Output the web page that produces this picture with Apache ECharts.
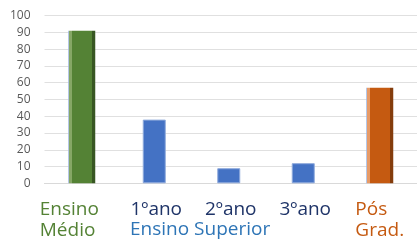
<!DOCTYPE html>
<html><head><meta charset="utf-8">
<script src="https://cdn.jsdelivr.net/npm/echarts@6/dist/echarts.min.js"></script>
<style>html,body{margin:0;padding:0;background:#fff}#c{width:417px;height:248px}</style>
</head><body><div id="c"></div>
<script>
var categories = ['Ensino\nMédio', '1ºano', '2ºano', '3ºano', 'Pós\nGrad.'];
var values = [91, 38, 9, 12, 57];
var yTicks = [0, 10, 20, 30, 40, 50, 60, 70, 80, 90, 100];
var groupLabel = 'Ensino Superior';

var labelColors = ['#548235', '#1F3468', '#1F3468', '#1F3468', '#C55A11'];
function bevel(light, main, dark) {
  return new echarts.graphic.LinearGradient(0, 0, 1, 0, [
    {offset: 0, color: '#9DB4E0'}, {offset: 0.04, color: '#9DB4E0'},
    {offset: 0.04, color: light}, {offset: 0.13, color: light},
    {offset: 0.13, color: main}, {offset: 0.87, color: main},
    {offset: 0.87, color: dark}, {offset: 1, color: dark}
  ]);
}
var wideColors = [bevel('#86A766', '#548235', '#385723'), null, null, null, bevel('#E79A66', '#C55A11', '#843C0C')];
var wideData = values.map(function (v, i) { return wideColors[i] ? {value: v, itemStyle: {color: wideColors[i]}} : null; });
var narrowData = values.map(function (v, i) { return wideColors[i] ? null : v; });

var rich = {};
labelColors.forEach(function (c, i) {
  rich['c' + i] = {color: c, fontSize: 19, lineHeight: 21, fontFamily: 'Open Sans'};
});
rich.c0.align = 'left'; rich.c0.width = 84;
rich.c4.align = 'left';

var chart = echarts.init(document.getElementById('c'));
chart.setOption({
  animation: false,
  grid: {left: 44.5, top: 15.7, width: 375, height: 167.6},
  xAxis: {
    type: 'category', data: categories,
    axisLine: {lineStyle: {color: '#D9D9D9'}}, axisTick: {show: false},
    axisLabel: {
      interval: 0, margin: 16,
      formatter: function (v, i) {
        return v.split('\n').map(function (l) { return '{c' + i + '|' + l + '}'; }).join('\n');
      },
      rich: rich
    }
  },
  yAxis: {
    type: 'value', min: yTicks[0], max: yTicks[yTicks.length - 1], interval: 10,
    axisLine: {show: false}, axisTick: {show: false},
    splitLine: {lineStyle: {color: '#E0E0E0', width: 1}},
    axisLabel: {color: '#595959', fontSize: 12, fontFamily: 'Open Sans', margin: 14}
  },
  series: [
    {type: 'bar', data: narrowData, barWidth: 23, barGap: '-100%',
      itemStyle: {color: '#4472C4', borderColor: '#8FAADC', borderWidth: 1}},
    {type: 'bar', data: wideData, barWidth: 27, barGap: '-100%'}
  ],
  graphic: [{
    type: 'text', left: 130, top: 220,
    style: {text: groupLabel, fill: '#2E75B6', fontSize: 19, fontFamily: 'Open Sans'}
  }]
});
</script></body></html>
